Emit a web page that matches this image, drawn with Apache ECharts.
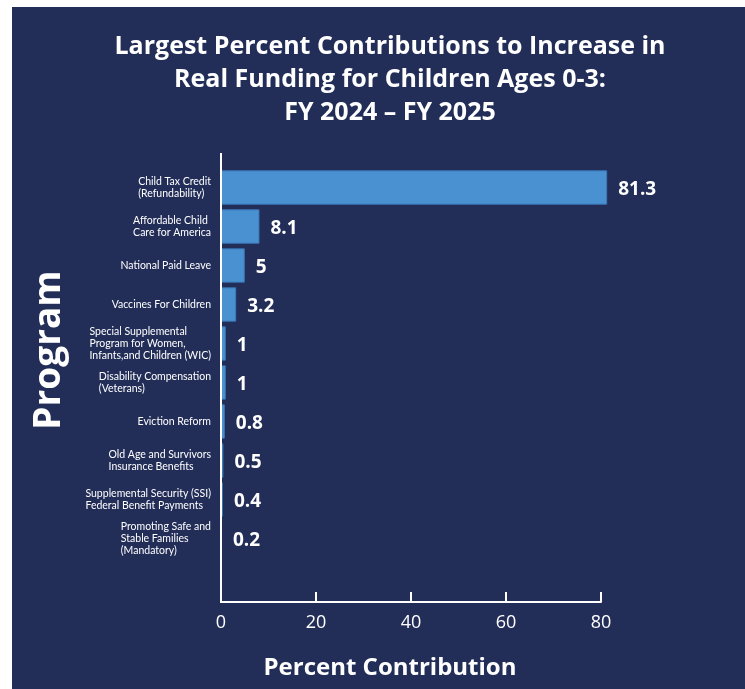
<!DOCTYPE html>
<html>
<head>
<meta charset="utf-8">
<script src="https://cdn.jsdelivr.net/npm/echarts@6/dist/echarts.min.js"></script>
<style>
html,body{margin:0;padding:0;background:#fff;}
#chart{width:745px;height:689px;}
</style>
</head>
<body>
<div id="chart"></div>
<script>
const categories = [
  "Child Tax Credit\n(Refundability)",
  "Affordable Child\nCare for America",
  "National Paid Leave",
  "Vaccines For Children",
  "Special Supplemental\nProgram for Women,\nInfants,and Children (WIC)",
  "Disability Compensation\n(Veterans)",
  "Eviction Reform",
  "Old Age and Survivors\nInsurance Benefits",
  "Supplemental Security (SSI)\nFederal Benefit Payments",
  "Promoting Safe and\nStable Families\n(Mandatory)"
];
const values = [81.3, 8.1, 5, 3.2, 1, 1, 0.8, 0.5, 0.4, 0.2];
const xTicks = [0, 20, 40, 60, 80];

const navy = '#222e58';
const font = '"Open Sans", Lato, sans-serif';
const lato = 'Lato, "Open Sans", sans-serif';

const chart = echarts.init(document.getElementById('chart'), null, {renderer: 'canvas'});
chart.setOption({
  backgroundColor: '#ffffff',
  animation: false,
  title: {
    text: 'Largest Percent Contributions to Increase in\nReal Funding for Children Ages 0-3:\nFY 2024 \u2013 FY 2025',
    left: 390,
    top: 30,
    padding: 0,
    textAlign: 'center',
    textStyle: {color: '#ffffff', fontFamily: font, fontWeight: 'bold', fontSize: 25, lineHeight: 33}
  },
  graphic: [
    {type: 'rect', z: -10, silent: true, shape: {x: 12, y: 7, width: 740, height: 690}, style: {fill: navy}},
    {type: 'line', z: 50, silent: true, shape: {x1: 221, y1: 153, x2: 221, y2: 603}, style: {stroke: '#ffffff', lineWidth: 2}},
    {type: 'text', z: 50, silent: true, x: 49, y: 350, rotation: Math.PI / 2,
      style: {text: 'Program', fill: '#ffffff', font: 'bold 37px ' + font, align: 'center', verticalAlign: 'middle'}}
  ],
  grid: {left: 221, right: 144, top: 168, bottom: 131, containLabel: false},
  xAxis: {
    type: 'value',
    min: xTicks[0],
    max: xTicks[xTicks.length - 1],
    interval: 20,
    offset: 44,
    name: 'Percent Contribution',
    nameLocation: 'middle',
    nameGap: 54,
    nameTextStyle: {color: '#ffffff', fontFamily: font, fontWeight: 'bold', fontSize: 24, padding: [0, 42, 0, 0]},
    axisLine: {show: true, lineStyle: {color: '#ffffff', width: 2}},
    axisTick: {show: true, inside: true, length: 10, lineStyle: {color: '#ffffff', width: 2}},
    axisLabel: {color: '#ffffff', fontFamily: font, fontSize: 18, margin: 12},
    splitLine: {show: false}
  },
  yAxis: {
    type: 'category',
    data: categories,
    inverse: true,
    axisLine: {show: false},
    axisTick: {show: false},
    axisLabel: {
      color: '#ffffff', fontFamily: lato, fontSize: 10.5, lineHeight: 12, margin: 10, align: 'right',
      formatter: function (v) {
        return v.split('\n').map(function (l) { return '{a|' + l + '}'; }).join('\n');
      },
      rich: {a: {align: 'left', color: '#ffffff', fontFamily: lato, fontSize: 10.5, lineHeight: 12}}
    },
    splitLine: {show: false}
  },
  series: [{
    type: 'bar',
    data: values,
    clip: false,
    barCategoryGap: '12%',
    itemStyle: {color: '#4a91d2', borderColor: '#3b78b8', borderWidth: 1},
    label: {
      show: true,
      position: 'right',
      distance: 11,
      offset: [0, 2],
      color: '#ffffff',
      fontFamily: font,
      fontWeight: 'bold',
      fontSize: 19
    }
  }]
});
</script>
</body>
</html>
